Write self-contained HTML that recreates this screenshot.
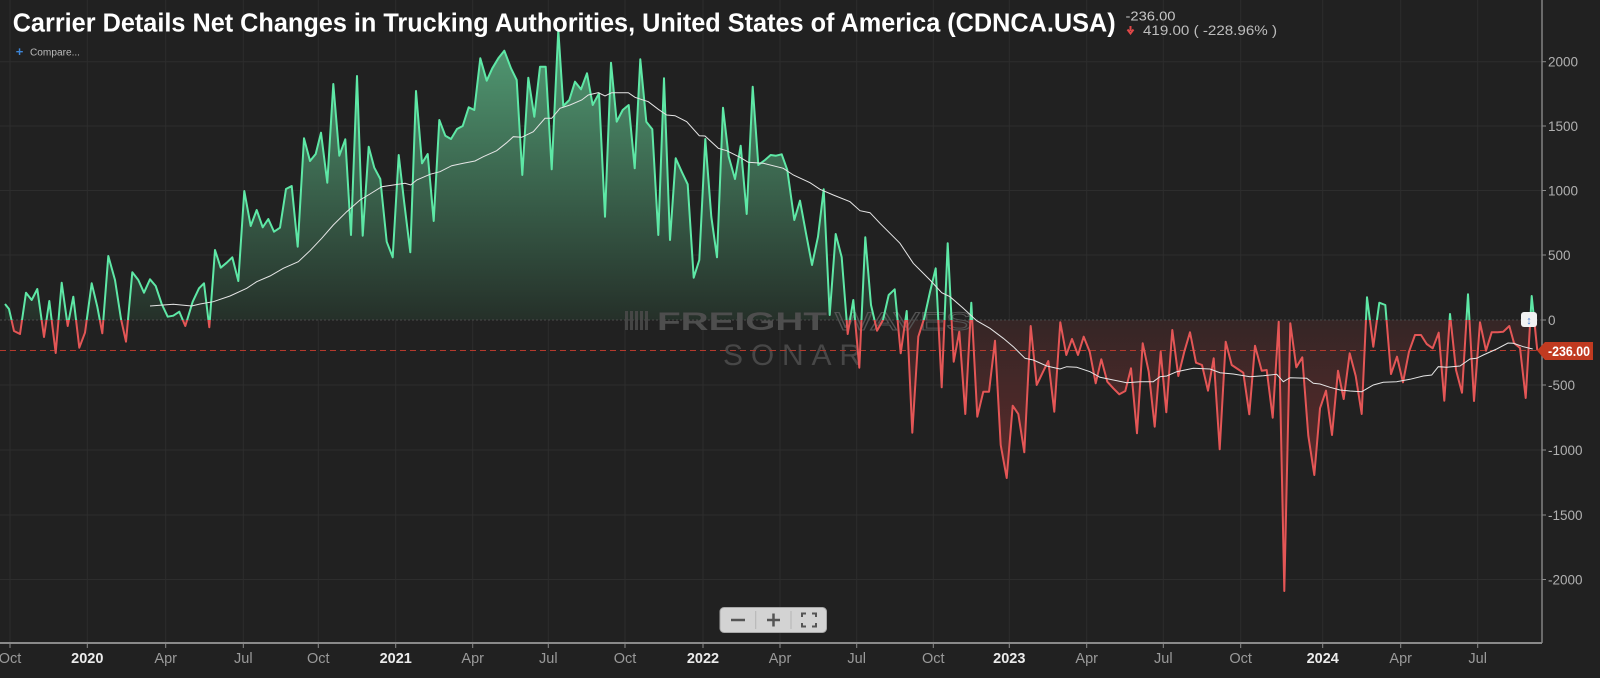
<!DOCTYPE html>
<html><head><meta charset="utf-8"><style>
html,body{margin:0;padding:0;background:#212121;}
svg{display:block;}
text{font-family:"Liberation Sans",Arial,sans-serif;}
</style></head><body>
<svg width="1600" height="678" viewBox="0 0 1600 678" xmlns="http://www.w3.org/2000/svg">
<defs>
<linearGradient id="gg" x1="0" y1="40" x2="0" y2="320" gradientUnits="userSpaceOnUse">
<stop offset="0" stop-color="#519a73"/><stop offset="1" stop-color="#253029"/></linearGradient>
<linearGradient id="rg" x1="0" y1="320" x2="0" y2="595" gradientUnits="userSpaceOnUse">
<stop offset="0" stop-color="#352626"/><stop offset="1" stop-color="#7a2e2e"/></linearGradient>
<clipPath id="up"><rect x="0" y="0" width="1542" height="320"/></clipPath>
<clipPath id="dn"><rect x="0" y="320" width="1542" height="358"/></clipPath>
<path id="area" d="M5,320 L5,304 9,309 14,331 20,334 26,292.7 31.7,300 37.3,289 44,337 49.3,301 55.7,353 61.7,282.7 67.7,326 73.3,296.7 79.3,347.7 85,332.7 91.7,283.3 97.3,306.7 102.3,333.3 108.3,256 115,280 121,319 126,341.7 132.3,272.3 138.3,280 144,292.7 150,279.3 155.7,286 161.7,304 167.7,316.7 173.3,315.7 179.3,311.7 185.3,326 192.7,301.7 199,288.3 204,283.3 209.3,327.3 215,250 220.7,267.7 226.7,262.7 232.3,257.3 238.3,281 244.3,191 250.7,226 256.7,210 262.7,227.3 268.3,219 274,231.7 280,227.7 286,189 291.7,186 297.7,246.7 304,138.3 310,161 315.7,154 321,132.7 327.3,182.7 333.3,84 339.3,155.7 345.3,139.3 351,235 357,76 362.7,235.7 368.7,146.7 374.3,167.7 380.3,179 386.7,241.7 392.7,257.3 398.7,155 404.3,203.3 410.3,252.3 416,91 422,163.3 427.7,154 433.7,221 439.3,120 445.3,135.7 451,139 457,129 462.7,126 468.7,107.3 474.3,110 480.3,58.3 486.7,80.7 492.3,68.3 498.3,58.3 504.3,50.7 511,68.3 516.7,80 522.3,175 528.3,77.7 534.3,116.7 540,66.7 545.7,66.7 551.7,169.3 558.3,30 563.3,106 569.3,100 575,81.7 581,89.3 587,73.3 592.7,105 599,93.3 605,216.7 611,62.7 616.7,121.7 622.7,110 628.7,105 634.7,168.3 640.3,59.3 646.3,121.7 652.3,129.3 658.3,235 664,78.3 670,240 675.7,158.3 681.7,171.7 687.7,184.3 693.7,277.7 699.3,260 705.3,139 711.3,216.7 717,257.3 723,107.7 728.7,156.7 735,179 740.7,145.7 746.7,214 752.7,86.7 758.3,165 765,160 770.7,155 776,155.7 781.7,154.3 787.3,170 794.3,220 800,200.7 806,233.3 812,265 818,236.7 823.7,189.3 829.7,315 835.7,234 841.7,257.3 847.7,334 853.3,300 859.3,367.7 865.3,237.3 871,305 877,330.7 883,320 888.7,295 894.7,289.3 900.7,353.3 906.7,311 912.3,432.7 918.3,336.7 924.3,318 930,292 935.7,268.3 941.7,387.3 947.7,243.3 953.7,361.7 959.3,331.7 965.3,414 971.3,302.7 977.3,416.7 983.3,391.7 989,391.7 995,340.7 1000.7,445 1006.7,478 1012.7,405.7 1018.3,414 1024.3,452.3 1030.7,326 1036.7,385 1042.3,373.3 1048.3,361 1054.3,411.7 1060.3,322.3 1066.3,355 1072,339 1078,355 1083.7,336.7 1089.7,351.7 1095.7,383.3 1101.3,359.3 1107.3,381.7 1113.3,388.3 1119.3,394.3 1125.3,391 1131,368.3 1137,433.3 1142.7,343.3 1148.7,371.7 1154.7,426.7 1160.7,351.7 1166.3,412.3 1172.3,330 1178.3,376 1184.3,351.7 1190,332.3 1196,362.7 1202,365 1208,390.7 1213.7,358.3 1219.7,449.3 1225.7,341.7 1231.7,365 1237.7,369 1243.3,372.7 1249.3,414.3 1255,345.7 1261.7,370.7 1266.7,370 1272.7,417.7 1278.7,321.7 1284.3,591 1290.3,323.3 1296.3,367.3 1302.3,357.3 1308.3,435.7 1314.3,475 1320,408.3 1326,390.7 1332,435 1338,370.7 1343.7,399 1349.7,353.3 1355.7,376 1361.7,414 1367,297.3 1373.3,346.7 1379.3,302.7 1385.3,305 1391,374 1397,356.7 1403,382.3 1409,351.7 1415,335 1421,335 1426.7,344 1432.7,348.3 1438.7,332.7 1444.3,400.7 1450,314 1456,370 1462,392.7 1468,294.3 1474,401 1480,322.3 1486,350.7 1491.7,332.3 1497.7,332.3 1503.3,331.7 1509.3,326 1514,343 1520,348 1525.7,398 1531.7,296 1537.3,350.5 L1537.3,320 Z"/>
<path id="ln" d="M5,304 9,309 14,331 20,334 26,292.7 31.7,300 37.3,289 44,337 49.3,301 55.7,353 61.7,282.7 67.7,326 73.3,296.7 79.3,347.7 85,332.7 91.7,283.3 97.3,306.7 102.3,333.3 108.3,256 115,280 121,319 126,341.7 132.3,272.3 138.3,280 144,292.7 150,279.3 155.7,286 161.7,304 167.7,316.7 173.3,315.7 179.3,311.7 185.3,326 192.7,301.7 199,288.3 204,283.3 209.3,327.3 215,250 220.7,267.7 226.7,262.7 232.3,257.3 238.3,281 244.3,191 250.7,226 256.7,210 262.7,227.3 268.3,219 274,231.7 280,227.7 286,189 291.7,186 297.7,246.7 304,138.3 310,161 315.7,154 321,132.7 327.3,182.7 333.3,84 339.3,155.7 345.3,139.3 351,235 357,76 362.7,235.7 368.7,146.7 374.3,167.7 380.3,179 386.7,241.7 392.7,257.3 398.7,155 404.3,203.3 410.3,252.3 416,91 422,163.3 427.7,154 433.7,221 439.3,120 445.3,135.7 451,139 457,129 462.7,126 468.7,107.3 474.3,110 480.3,58.3 486.7,80.7 492.3,68.3 498.3,58.3 504.3,50.7 511,68.3 516.7,80 522.3,175 528.3,77.7 534.3,116.7 540,66.7 545.7,66.7 551.7,169.3 558.3,30 563.3,106 569.3,100 575,81.7 581,89.3 587,73.3 592.7,105 599,93.3 605,216.7 611,62.7 616.7,121.7 622.7,110 628.7,105 634.7,168.3 640.3,59.3 646.3,121.7 652.3,129.3 658.3,235 664,78.3 670,240 675.7,158.3 681.7,171.7 687.7,184.3 693.7,277.7 699.3,260 705.3,139 711.3,216.7 717,257.3 723,107.7 728.7,156.7 735,179 740.7,145.7 746.7,214 752.7,86.7 758.3,165 765,160 770.7,155 776,155.7 781.7,154.3 787.3,170 794.3,220 800,200.7 806,233.3 812,265 818,236.7 823.7,189.3 829.7,315 835.7,234 841.7,257.3 847.7,334 853.3,300 859.3,367.7 865.3,237.3 871,305 877,330.7 883,320 888.7,295 894.7,289.3 900.7,353.3 906.7,311 912.3,432.7 918.3,336.7 924.3,318 930,292 935.7,268.3 941.7,387.3 947.7,243.3 953.7,361.7 959.3,331.7 965.3,414 971.3,302.7 977.3,416.7 983.3,391.7 989,391.7 995,340.7 1000.7,445 1006.7,478 1012.7,405.7 1018.3,414 1024.3,452.3 1030.7,326 1036.7,385 1042.3,373.3 1048.3,361 1054.3,411.7 1060.3,322.3 1066.3,355 1072,339 1078,355 1083.7,336.7 1089.7,351.7 1095.7,383.3 1101.3,359.3 1107.3,381.7 1113.3,388.3 1119.3,394.3 1125.3,391 1131,368.3 1137,433.3 1142.7,343.3 1148.7,371.7 1154.7,426.7 1160.7,351.7 1166.3,412.3 1172.3,330 1178.3,376 1184.3,351.7 1190,332.3 1196,362.7 1202,365 1208,390.7 1213.7,358.3 1219.7,449.3 1225.7,341.7 1231.7,365 1237.7,369 1243.3,372.7 1249.3,414.3 1255,345.7 1261.7,370.7 1266.7,370 1272.7,417.7 1278.7,321.7 1284.3,591 1290.3,323.3 1296.3,367.3 1302.3,357.3 1308.3,435.7 1314.3,475 1320,408.3 1326,390.7 1332,435 1338,370.7 1343.7,399 1349.7,353.3 1355.7,376 1361.7,414 1367,297.3 1373.3,346.7 1379.3,302.7 1385.3,305 1391,374 1397,356.7 1403,382.3 1409,351.7 1415,335 1421,335 1426.7,344 1432.7,348.3 1438.7,332.7 1444.3,400.7 1450,314 1456,370 1462,392.7 1468,294.3 1474,401 1480,322.3 1486,350.7 1491.7,332.3 1497.7,332.3 1503.3,331.7 1509.3,326 1514,343 1520,348 1525.7,398 1531.7,296 1537.3,350.5"/>
</defs>
<rect width="1600" height="678" fill="#212121"/>
<g stroke="#2d2d2d" stroke-width="1">
<line x1="10" y1="0" x2="10" y2="643"/><line x1="87.3" y1="0" x2="87.3" y2="643"/><line x1="165.7" y1="0" x2="165.7" y2="643"/><line x1="243.3" y1="0" x2="243.3" y2="643"/><line x1="318.3" y1="0" x2="318.3" y2="643"/><line x1="395.7" y1="0" x2="395.7" y2="643"/><line x1="472.7" y1="0" x2="472.7" y2="643"/><line x1="548.3" y1="0" x2="548.3" y2="643"/><line x1="625" y1="0" x2="625" y2="643"/><line x1="703" y1="0" x2="703" y2="643"/><line x1="780" y1="0" x2="780" y2="643"/><line x1="856.7" y1="0" x2="856.7" y2="643"/><line x1="933.3" y1="0" x2="933.3" y2="643"/><line x1="1009.3" y1="0" x2="1009.3" y2="643"/><line x1="1086.7" y1="0" x2="1086.7" y2="643"/><line x1="1163.3" y1="0" x2="1163.3" y2="643"/><line x1="1240.7" y1="0" x2="1240.7" y2="643"/><line x1="1322.7" y1="0" x2="1322.7" y2="643"/><line x1="1400.7" y1="0" x2="1400.7" y2="643"/><line x1="1477.7" y1="0" x2="1477.7" y2="643"/>
<line x1="0" y1="61.7" x2="1542" y2="61.7"/><line x1="0" y1="126" x2="1542" y2="126"/><line x1="0" y1="190.5" x2="1542" y2="190.5"/><line x1="0" y1="255" x2="1542" y2="255"/><line x1="0" y1="385" x2="1542" y2="385"/><line x1="0" y1="450" x2="1542" y2="450"/><line x1="0" y1="515" x2="1542" y2="515"/><line x1="0" y1="579.5" x2="1542" y2="579.5"/>
</g>

<use href="#area" fill="url(#gg)" clip-path="url(#up)"/>
<use href="#area" fill="url(#rg)" clip-path="url(#dn)"/>
<line x1="0" y1="320" x2="1542" y2="320" stroke="#4a4a4a" stroke-width="1" stroke-dasharray="2,2"/>

<!-- watermark -->
<g fill="#4a4a4a" opacity="0.9">
<rect x="625" y="311" width="3" height="19"/><rect x="630" y="311" width="3" height="19"/><rect x="635" y="311" width="3" height="19"/><rect x="640" y="311" width="3" height="19"/><rect x="645" y="311" width="3" height="19"/>
</g>
<text x="657" y="330" font-size="25" font-weight="bold" fill="#4e4e4e" textLength="170" lengthAdjust="spacingAndGlyphs">FREIGHT</text>
<text x="835" y="330" font-size="25" fill="none" stroke="#525252" stroke-width="1" textLength="137" lengthAdjust="spacingAndGlyphs">WAVES</text>
<text x="723" y="365" font-size="30" fill="#474747" textLength="138" lengthAdjust="spacing">SONAR</text>

<line x1="0" y1="350.5" x2="1537" y2="350.5" stroke="#b5392c" stroke-width="1" stroke-dasharray="6,4"/>

<!-- lines -->
<g fill="none" stroke-width="2" stroke-linejoin="round">
<use href="#ln" stroke="#5ee8a6" clip-path="url(#up)"/>
<use href="#ln" stroke="#e45656" clip-path="url(#dn)"/>
</g>
<polyline fill="none" stroke="#e6e6e6" stroke-width="1" points="150,306 173.3,304.3 191.7,306 200,304 213.3,301.7 230,296 246.7,288.3 256.7,281.7 270,276 283.3,268.3 298.3,261.7 310,250.7 321.7,238.3 333.3,225 346.7,211.7 360,200 370,194 381.7,186.7 393.3,185 405,183.3 410.7,185 416.7,180 430,174.3 440,171.7 451.7,165.7 463.3,163.3 475,161 483.3,156.7 496.7,150.7 506.7,142.7 513.3,136.7 521.7,137.3 533.3,131.7 545,118.3 551.7,118.3 560,108.3 570,105 581.7,100 588.3,95 598.3,92.7 605,96 611.7,92.7 628.3,92.7 635,97.3 648.3,101.7 658.3,109.3 666.7,115 675,115.7 686.7,121.7 699.3,135.7 705,136 718.3,148.3 726.7,150.7 740,157.3 748.3,162.3 763.3,163.3 783.3,168.3 793.3,175 810,182.7 820,189.3 833.3,195 850,201.7 860,210.7 870,212.7 880,223.3 890,233.3 900,243.3 913.3,263.3 930,280 941.7,292.7 950,296.7 963.3,308.3 976.7,320.7 990,328.3 1003.3,338.3 1013.3,346.7 1025,358.3 1033.3,360 1046.7,366 1060,369 1066.7,366.7 1076.7,367.3 1090,371.7 1100,377.3 1113.3,380 1126.7,382.7 1140,381.7 1153.3,381.7 1160,376.7 1166.7,376 1176.7,371.7 1193.3,368.3 1210,369 1220,372.7 1233.3,374 1250,376.7 1263.3,375.7 1276.7,374.3 1283.3,381.7 1290,377.7 1306.7,378.3 1313.3,383.3 1320,384 1330,387.3 1340,390 1350,391 1361.7,391.7 1373.3,385 1383.3,382.3 1396.7,381.7 1410,379.3 1423.3,376 1431.7,375 1438.3,366.7 1446.7,367.3 1460,366 1470,359 1476.7,358.3 1483.3,355 1496.7,349 1508,343 1513.3,343.3 1523.3,346.7 1532.7,349"/>

<!-- axes -->
<line x1="1542" y1="0" x2="1542" y2="643" stroke="#9a9a9a" stroke-width="1.2"/>
<line x1="0" y1="643" x2="1542" y2="643" stroke="#8a8a8a" stroke-width="2"/>
<g stroke="#8a8a8a" stroke-width="1">
<line x1="10" y1="643" x2="10" y2="648"/><line x1="87.3" y1="643" x2="87.3" y2="648"/><line x1="165.7" y1="643" x2="165.7" y2="648"/><line x1="243.3" y1="643" x2="243.3" y2="648"/><line x1="318.3" y1="643" x2="318.3" y2="648"/><line x1="395.7" y1="643" x2="395.7" y2="648"/><line x1="472.7" y1="643" x2="472.7" y2="648"/><line x1="548.3" y1="643" x2="548.3" y2="648"/><line x1="625" y1="643" x2="625" y2="648"/><line x1="703" y1="643" x2="703" y2="648"/><line x1="780" y1="643" x2="780" y2="648"/><line x1="856.7" y1="643" x2="856.7" y2="648"/><line x1="933.3" y1="643" x2="933.3" y2="648"/><line x1="1009.3" y1="643" x2="1009.3" y2="648"/><line x1="1086.7" y1="643" x2="1086.7" y2="648"/><line x1="1163.3" y1="643" x2="1163.3" y2="648"/><line x1="1240.7" y1="643" x2="1240.7" y2="648"/><line x1="1322.7" y1="643" x2="1322.7" y2="648"/><line x1="1400.7" y1="643" x2="1400.7" y2="648"/><line x1="1477.7" y1="643" x2="1477.7" y2="648"/>
<line x1="1542" y1="61.7" x2="1546" y2="61.7"/><line x1="1542" y1="126" x2="1546" y2="126"/><line x1="1542" y1="190.5" x2="1546" y2="190.5"/><line x1="1542" y1="255" x2="1546" y2="255"/><line x1="1542" y1="320" x2="1546" y2="320"/><line x1="1542" y1="385" x2="1546" y2="385"/><line x1="1542" y1="450" x2="1546" y2="450"/><line x1="1542" y1="515" x2="1546" y2="515"/><line x1="1542" y1="579.5" x2="1546" y2="579.5"/>
</g>
<g font-size="14.5" text-anchor="middle" fill="#9a9a9a">
<text x="10" y="663">Oct</text><text x="87.3" y="663" fill="#ececec" font-weight="bold">2020</text><text x="165.7" y="663">Apr</text><text x="243.3" y="663">Jul</text><text x="318.3" y="663">Oct</text><text x="395.7" y="663" fill="#ececec" font-weight="bold">2021</text><text x="472.7" y="663">Apr</text><text x="548.3" y="663">Jul</text><text x="625" y="663">Oct</text><text x="703" y="663" fill="#ececec" font-weight="bold">2022</text><text x="780" y="663">Apr</text><text x="856.7" y="663">Jul</text><text x="933.3" y="663">Oct</text><text x="1009.3" y="663" fill="#ececec" font-weight="bold">2023</text><text x="1086.7" y="663">Apr</text><text x="1163.3" y="663">Jul</text><text x="1240.7" y="663">Oct</text><text x="1322.7" y="663" fill="#ececec" font-weight="bold">2024</text><text x="1400.7" y="663">Apr</text><text x="1477.7" y="663">Jul</text>
</g>
<g font-size="13.5" fill="#b0b0b0">
<text x="1548" y="66.5">2000</text><text x="1548" y="131">1500</text><text x="1548" y="195.5">1000</text><text x="1548" y="260">500</text><text x="1548" y="325">0</text><text x="1548" y="390">-500</text><text x="1548" y="455">-1000</text><text x="1548" y="520">-1500</text><text x="1548" y="584.5">-2000</text>
</g>

<!-- last value tag -->
<path d="M1537,350.5 L1545,342 L1593,342 L1593,360 L1545,360 Z" fill="#c03a20"/>
<text x="1548" y="356" font-size="14" font-weight="bold" fill="#ffffff" textLength="42" lengthAdjust="spacingAndGlyphs">-236.00</text>
<rect x="1521" y="312" width="16" height="15" rx="3" fill="#f2f2f2"/>
<text x="1529" y="324" font-size="11" font-weight="bold" fill="#4a7fd0" text-anchor="middle">↕</text>

<!-- zoom control -->
<rect x="720" y="607.5" width="106.5" height="25" rx="4" fill="#d3d3d3" stroke="#a8a8a8" stroke-width="1"/>
<line x1="755.7" y1="611" x2="755.7" y2="629" stroke="#b5b5b5"/><line x1="791" y1="611" x2="791" y2="629" stroke="#b5b5b5"/>
<g stroke="#555" stroke-width="2.5" fill="none">
<line x1="731" y1="620" x2="745" y2="620"/>
<line x1="767" y1="620" x2="780" y2="620"/><line x1="773.5" y1="613.5" x2="773.5" y2="626.5"/>
</g>
<g stroke="#555" stroke-width="2" fill="none">
<path d="M802,617 V613.5 H806"/><path d="M812,613.5 H816 V617"/><path d="M802,623 V626.5 H806"/><path d="M812,626.5 H816 V623"/>
</g>

<!-- header -->
<text x="12.7" y="31.7" font-size="25.5" font-weight="bold" fill="#ffffff" textLength="1103" lengthAdjust="spacingAndGlyphs">Carrier Details Net Changes in Trucking Authorities, United States of America (CDNCA.USA)</text>
<text x="1125.5" y="20.5" font-size="13" fill="#c8c8c8" textLength="50" lengthAdjust="spacingAndGlyphs">-236.00</text>
<path d="M1130.5,26 V31 M1127.5,29.5 L1130.5,33.5 L1133.5,29.5" stroke="#e04848" stroke-width="2" fill="none"/>
<text x="1143" y="35" font-size="13.5" fill="#bdbdbd" textLength="134" lengthAdjust="spacingAndGlyphs">419.00 ( -228.96% )</text>
<text x="19.5" y="56" font-size="13" font-weight="bold" fill="#3d85d6" text-anchor="middle">+</text>
<text x="30" y="55.7" font-size="10" fill="#bcbcbc" textLength="50" lengthAdjust="spacingAndGlyphs">Compare...</text>
</svg>
</body></html>
